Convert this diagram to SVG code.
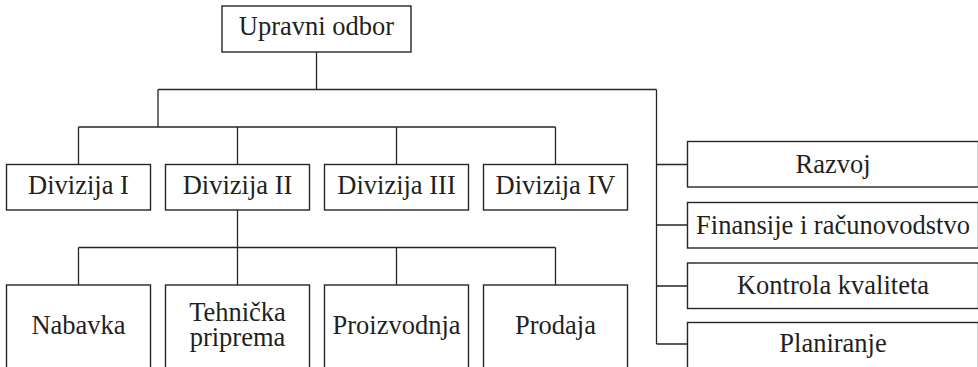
<svg xmlns="http://www.w3.org/2000/svg" width="978" height="367" viewBox="0 0 978 367" font-family="Liberation Serif, serif" font-size="26.5">
  <style>
    .box { fill: #ffffff; stroke: #262626; stroke-width: 1.4; }
    .conn { fill: none; stroke: #262626; stroke-width: 1.3; }
    .lbl { fill: #231f20; text-anchor: middle; }
  </style>
  <rect width="978" height="367" fill="#ffffff"/>

  <!-- connectors -->
  <g id="connectors">
    <!-- board to first split -->
    <path class="conn" d="M316.5 52 V89.5 M158 89.5 H656.5"/>
    <!-- divisions -->
    <path class="conn" d="M158 89.5 V127 M78.5 127 H555.5 M78.5 127 V164.5 M237.5 127 V164.5 M396.5 127 V164.5 M555.5 127 V164.5"/>
    <!-- staff functions -->
    <path class="conn" d="M656.5 89.5 V344 M656.5 164.5 H687.5 M656.5 225 H687.5 M656.5 286 H687.5 M656.5 344 H687.5"/>
    <!-- departments of Divizija II -->
    <path class="conn" d="M237.5 210 V247.5 M78.5 247.5 H555.5 M78.5 247.5 V285 M237.5 247.5 V285 M396.5 247.5 V285 M555.5 247.5 V285"/>
  </g>

  <g id="upravni-odbor">
    <rect class="box" x="222" y="6" width="189" height="46"/>
    <text class="lbl" x="316.5" y="35">Upravni odbor</text>
  </g>

  <g id="divizija-1">
    <rect class="box" x="6.5" y="164.5" width="144" height="45.5"/>
    <text class="lbl" x="78.5" y="194">Divizija I</text>
  </g>
  <g id="divizija-2">
    <rect class="box" x="165.5" y="164.5" width="144" height="45.5"/>
    <text class="lbl" x="237.5" y="194">Divizija II</text>
  </g>
  <g id="divizija-3">
    <rect class="box" x="324.5" y="164.5" width="144" height="45.5"/>
    <text class="lbl" x="396.5" y="194">Divizija III</text>
  </g>
  <g id="divizija-4">
    <rect class="box" x="483.5" y="164.5" width="144" height="45.5"/>
    <text class="lbl" x="555.5" y="194">Divizija IV</text>
  </g>

  <g id="nabavka">
    <rect class="box" x="6.5" y="285" width="144" height="100"/>
    <text class="lbl" x="78.5" y="334">Nabavka</text>
  </g>
  <g id="tehnicka-priprema">
    <rect class="box" x="165.5" y="285" width="144" height="100"/>
    <text class="lbl" x="237.5" y="320.5">Tehnička</text>
    <text class="lbl" x="237.5" y="346">priprema</text>
  </g>
  <g id="proizvodnja">
    <rect class="box" x="324.5" y="285" width="144" height="100"/>
    <text class="lbl" x="396.5" y="334">Proizvodnja</text>
  </g>
  <g id="prodaja">
    <rect class="box" x="483.5" y="285" width="144" height="100"/>
    <text class="lbl" x="555.5" y="334">Prodaja</text>
  </g>

  <g id="razvoj">
    <rect class="box" x="687.5" y="141.5" width="291" height="45.5"/>
    <text class="lbl" x="833" y="172.5">Razvoj</text>
  </g>
  <g id="finansije">
    <rect class="box" x="687.5" y="202.5" width="291" height="45.5"/>
    <text class="lbl" x="833" y="233.5">Finansije i računovodstvo</text>
  </g>
  <g id="kontrola-kvaliteta">
    <rect class="box" x="687.5" y="263" width="291" height="45.5"/>
    <text class="lbl" x="833" y="293.5">Kontrola kvaliteta</text>
  </g>
  <g id="planiranje">
    <rect class="box" x="687.5" y="322.5" width="291" height="60"/>
    <text class="lbl" x="833" y="352">Planiranje</text>
  </g>
</svg>
